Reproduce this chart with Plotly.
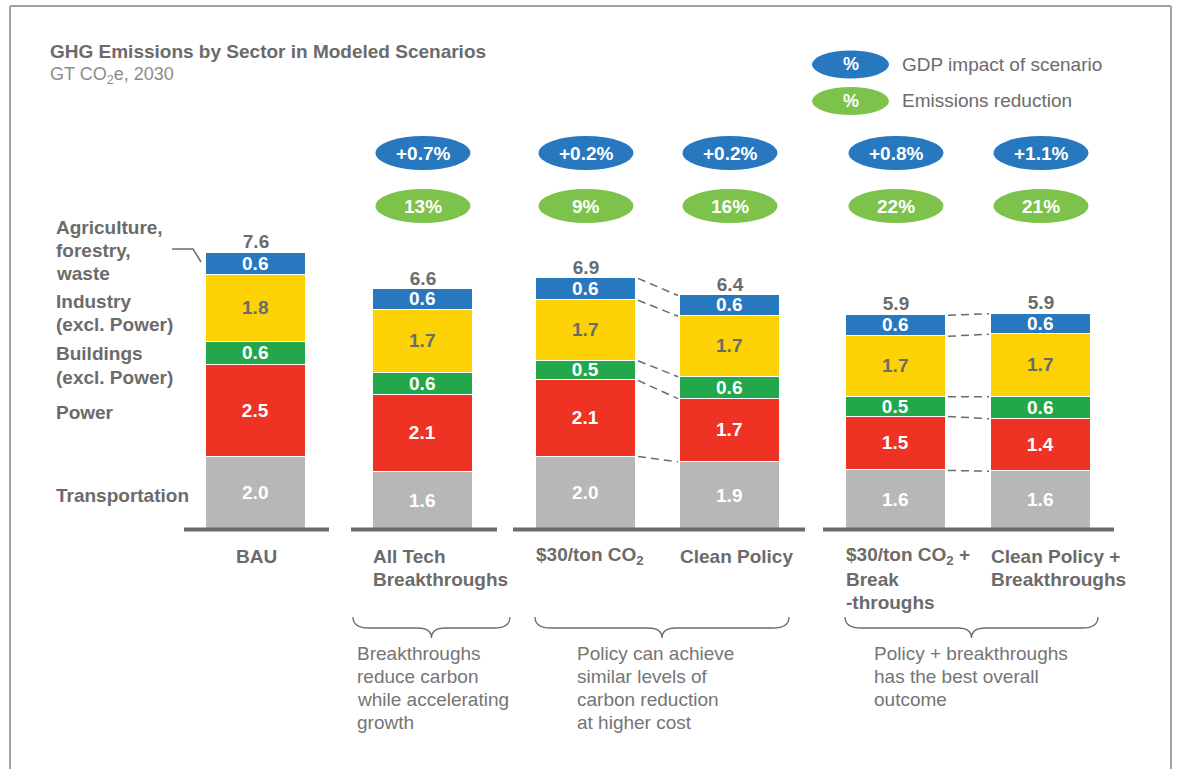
import plotly.graph_objects as go

# GHG emissions by sector, GT CO2e in 2030 (bar segments)
scenarios = ["BAU", "All Tech<br>Breakthroughs", "$30/ton CO<sub>2</sub>", "Clean Policy",
             "$30/ton CO<sub>2</sub> +<br>Break<br>-throughs", "Clean Policy +<br>Breakthroughs"]
transportation = [2.0, 1.59, 2.0, 1.86, 1.62, 1.60]
power = [2.5, 2.10, 2.09, 1.73, 1.48, 1.44]
buildings = [0.64, 0.61, 0.54, 0.60, 0.54, 0.60]
industry = [1.84, 1.72, 1.66, 1.66, 1.66, 1.72]
agriculture = [0.61, 0.57, 0.60, 0.57, 0.58, 0.56]

gdp_impact = [None, "+0.7%", "+0.2%", "+0.2%", "+0.8%", "+1.1%"]
emissions_reduction = [None, "13%", "9%", "16%", "22%", "21%"]

sector_labels = ["Agriculture,<br>forestry,<br>waste", "Industry<br>(excl. Power)",
                 "Buildings<br>(excl. Power)", "Power", "Transportation"]
notes = ["Breakthroughs<br>reduce carbon<br>while accelerating<br>growth",
         "Policy can achieve<br>similar levels of<br>carbon reduction<br>at higher cost",
         "Policy + breakthroughs<br>has the best overall<br>outcome"]

W, H = 1180, 769
FONT = "Liberation Sans, Arial, sans-serif"
TXT = "#6b6b6b"
BLUE, YELLOW, GREEN, RED, GREY = "#2878c0", "#fcd205", "#22a84b", "#ee3224", "#b7b7b7"
PILL_BLUE, PILL_GREEN = "#2878c0", "#7dc24a"

bar_x = [256, 423, 586, 730, 896, 1041]
bar_w = 100
base_px, px_per_unit = 529.5, 36.45
LINE = 23  # line spacing of the multi-line labels, px


def P(py):
    # pixel row -> paper fraction (margins are zero)
    return 1 - py / H


def label(x, py, text, size=19, color=TXT, xanchor="left", bold=False):
    # one annotation per line so the line spacing matches the original
    out = []
    for k, line in enumerate(text.split("<br>")):
        t = "<b>%s</b>" % line if bold else line
        out.append(dict(x=x, y=P(py + k * LINE), xref="x", yref="paper", xanchor=xanchor,
                        yanchor="middle", showarrow=False, text=t,
                        font=dict(family=FONT, size=size, color=color)))
    return out


fig = go.Figure()

series = [
    ("Transportation", transportation, GREY, "white"),
    ("Power", power, RED, "white"),
    ("Buildings", buildings, GREEN, "white"),
    ("Industry", industry, YELLOW, TXT),
    ("Agriculture", agriculture, BLUE, "white"),
]
for name, vals, col, tcol in series:
    fig.add_trace(go.Bar(
        x=bar_x, y=vals, width=bar_w, name=name,
        marker=dict(color=col, line=dict(color="white", width=1.5)),
        texttemplate="<b>%{y:.1f}</b>", textposition="inside",
        insidetextanchor="middle", textangle=0, constraintext="none",
        textfont=dict(family=FONT, size=19, color=tcol),
        hoverinfo="skip",
    ))

totals = [sum(v) for v in zip(transportation, power, buildings, industry, agriculture)]
fig.add_trace(go.Scatter(
    x=bar_x, y=totals, mode="text",
    text=["<b>%.1f</b>" % t for t in totals], textposition="top center",
    textfont=dict(family=FONT, size=19, color=TXT), hoverinfo="skip",
))

shapes = []
annos = []

# frame
for x0, y0, x1, y1 in [(10, 6, 10, H), (10, 6, 1171, 6), (1171, 6, 1171, H)]:
    shapes.append(dict(type="line", xref="x", yref="paper", x0=x0, x1=x1, y0=P(y0), y1=P(y1),
                       line=dict(color="#a3a3a3", width=2)))

# baselines for each group
for x0, x1 in [(184, 329), (351, 497), (513, 805), (823, 1114)]:
    shapes.append(dict(type="line", xref="x", yref="y", x0=x0, x1=x1, y0=0, y1=0,
                       line=dict(color="#6b6b6b", width=4)))

# dashed connectors between paired bars
stack = list(zip(transportation, power, buildings, industry, agriculture))
for i, j in [(2, 3), (4, 5)]:
    ci, cj = 0, 0
    for vi, vj in zip(stack[i], stack[j]):
        ci += vi
        cj += vj
        shapes.append(dict(type="line", xref="x", yref="y",
                           x0=bar_x[i] + bar_w / 2 + 2, x1=bar_x[j] - bar_w / 2 - 2,
                           y0=ci, y1=cj, line=dict(color="#6b6b6b", width=1.5, dash="8px,5px")))

# pills with GDP impact and emissions reduction
for x, g, e in zip(bar_x, gdp_impact, emissions_reduction):
    if g is None:
        continue
    for txt, col, cy in [(g, PILL_BLUE, 153), (e, PILL_GREEN, 206)]:
        shapes.append(dict(type="circle", xref="x", yref="paper", x0=x - 47.5, x1=x + 47.5,
                           y0=P(cy + 17), y1=P(cy - 17), fillcolor=col, line=dict(width=0)))
        annos += label(x, cy, txt, size=19, color="white", xanchor="center", bold=True)

# legend pills
for txt, col, cy in [("GDP impact of scenario", PILL_BLUE, 64.5), ("Emissions reduction", PILL_GREEN, 101)]:
    shapes.append(dict(type="circle", xref="x", yref="paper", x0=812, x1=889,
                       y0=P(cy + 14), y1=P(cy - 14), fillcolor=col, line=dict(width=0)))
    annos += label(850.5, cy, "%", size=18, color="white", xanchor="center", bold=True)
    annos += label(900, cy, txt, size=19)

# title
annos += label(48, 52, "GHG Emissions by Sector in Modeled Scenarios", size=19, bold=True)
annos += label(48, 75, "GT CO<sub>2</sub>e, 2030", size=18, color="#8c8c8c")

# sector labels on the left
for txt, cy in zip(sector_labels, [227, 301.5, 354, 412, 495.5]):
    annos += label(54, cy, txt, bold=True)
shapes.append(dict(type="path", xref="x", yref="paper",
                   path="M 172,%f L 193,%f L 201,%f" % (P(249), P(249), P(262)),
                   line=dict(color="#6b6b6b", width=1.5)))

# scenario labels
for k, (x, txt) in enumerate(zip(bar_x, scenarios)):
    if k == 0:
        annos += label(x, 556, txt, xanchor="center", bold=True)
    else:
        annos += label(x - bar_w / 2 - 2, 556, txt, bold=True)


def brace(x0, x1, top=617, mid=628, tip=638):
    xt = (x0 + x1) / 2
    pts = "M %f,%f Q %f,%f %f,%f L %f,%f Q %f,%f %f,%f Q %f,%f %f,%f L %f,%f Q %f,%f %f,%f" % (
        x0, P(top), x0, P(mid), x0 + 16, P(mid), xt - 14, P(mid), xt, P(mid), xt, P(tip),
        xt, P(mid), xt + 14, P(mid), x1 - 16, P(mid), x1, P(mid), x1, P(top))
    return dict(type="path", xref="x", yref="paper", path=pts, line=dict(color="#6b6b6b", width=1.3))


for (x0, x1), tx, txt in zip([(353, 510), (535, 789), (845, 1098)], [355, 575, 872], notes):
    shapes.append(brace(x0, x1))
    annos += label(tx, 653, txt, color="#757575")

fig.update_layout(
    width=W, height=H, margin=dict(l=0, r=0, t=0, b=0),
    barmode="stack", bargap=0, showlegend=False,
    plot_bgcolor="white", paper_bgcolor="white",
    xaxis=dict(range=[0, W], visible=False, fixedrange=True),
    yaxis=dict(range=[-(H - base_px) / px_per_unit, base_px / px_per_unit], visible=False, fixedrange=True),
    shapes=shapes, annotations=annos,
)

# page has a default 8px body margin; drop it so the figure sits at the window corner
fig.write_html("out.html", config={"displayModeBar": False},
               post_script="document.body.style.margin='0';")
